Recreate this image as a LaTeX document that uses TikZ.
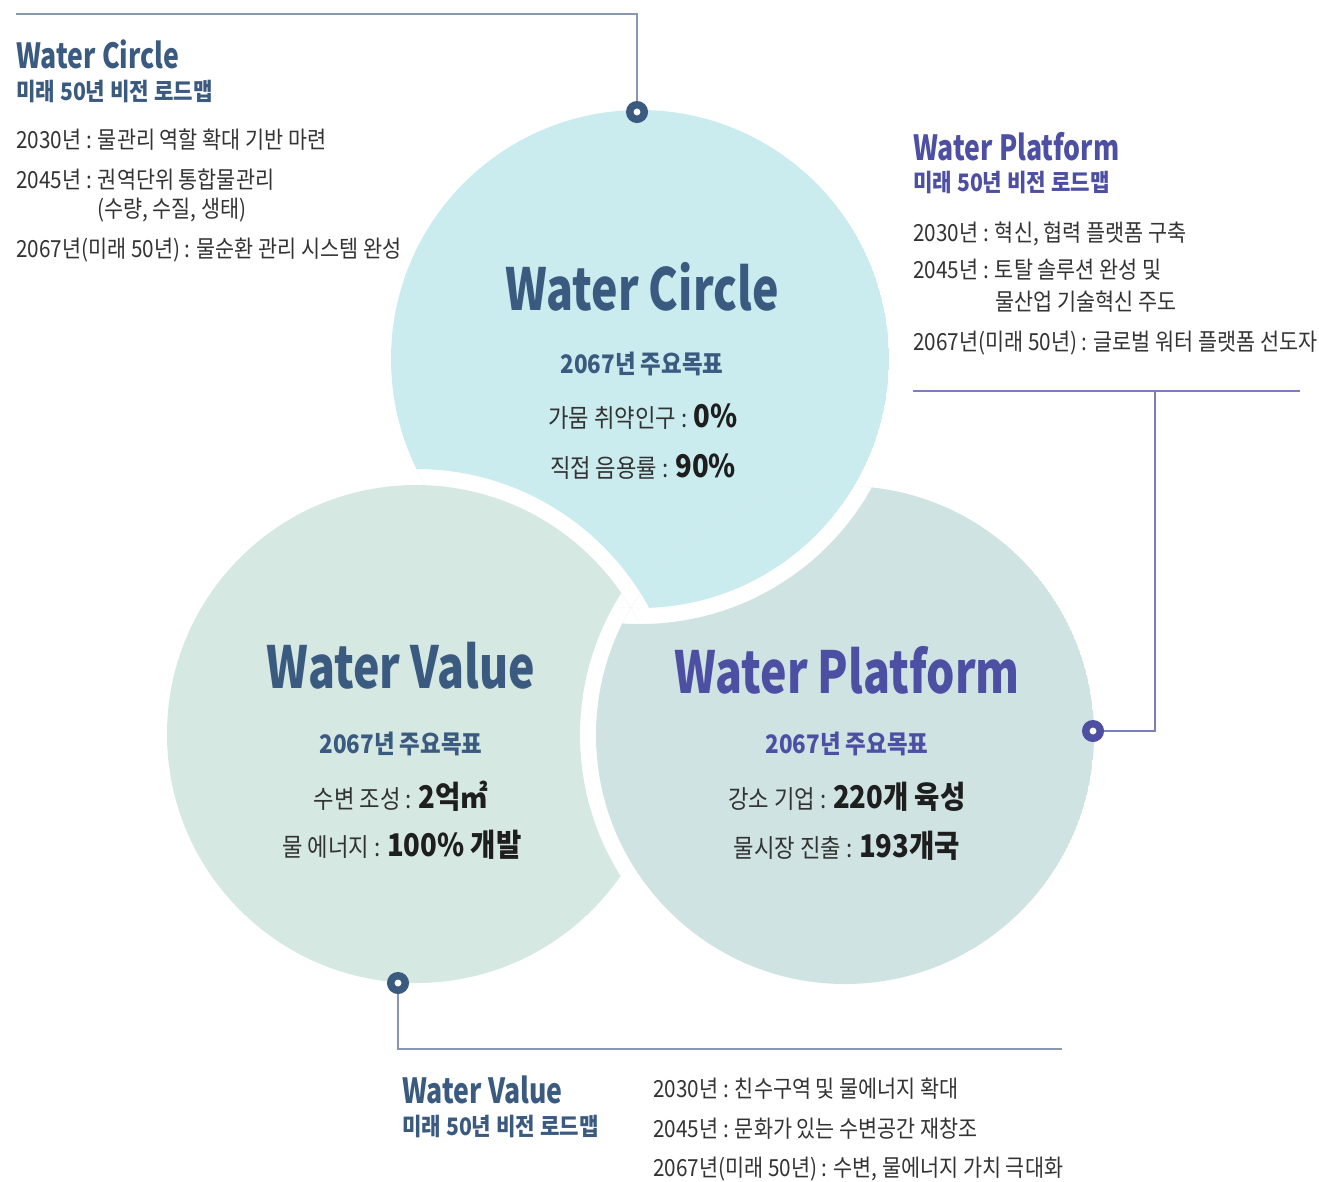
\documentclass[tikz,border=0pt]{standalone}
\usepackage{fontspec}
\setmainfont{Noto Sans CJK KR}[FakeStretch=0.88]
\newfontfamily\titlefont{Noto Sans CJK KR}[FakeStretch=0.77]
\usepackage{tikz}
\definecolor{navy}{HTML}{3B5A80}
\definecolor{wpViolet}{HTML}{4D4FA2}
\definecolor{bodyGrey}{HTML}{333333}
\definecolor{numBlack}{HTML}{1E1E1E}
\definecolor{wcFill}{HTML}{CBECEF}
\definecolor{wvFill}{HTML}{D5E8E2}
\definecolor{wpFill}{HTML}{CFE3E3}
\definecolor{lineBlue}{HTML}{8898B2}
\definecolor{lineViolet}{HTML}{7B7DC0}
\tikzstyle{bigtitle} = [anchor=base, inner sep=0pt, font=\titlefont\fontsize{33}{35}\selectfont\bfseries]
\tikzstyle{goal} = [anchor=base, inner sep=0pt, font=\fontsize{14.5}{16}\selectfont\bfseries]
\tikzstyle{item} = [anchor=base, inner sep=0pt, text=bodyGrey, font=\fontsize{14.4}{16}\selectfont]
\tikzstyle{sidetitle} = [anchor=base west, inner sep=0pt, font=\titlefont\fontsize{19.7}{21}\selectfont\bfseries]
\tikzstyle{sidesub} = [anchor=base west, inner sep=0pt, font=\fontsize{13.7}{15}\selectfont\bfseries]
\tikzstyle{sidetext} = [anchor=base west, inner sep=0pt, text=bodyGrey, font=\fontsize{13.4}{16}\selectfont]
\tikzstyle{dotpin} = [circle, fill=white, line width=4.25pt, inner sep=0pt, minimum size=0.29cm]
\tikzstyle{leader} = [line width=1.1pt]
\newcommand{\goalnum}[1]{{\fontsize{17.8}{19}\selectfont\bfseries\color{numBlack}#1}}

\begin{document}
\begin{tikzpicture}[x=0.02cm, y=-0.02cm]
    \useasboundingbox (0,0) rectangle (1319,1181);
    \coordinate (wcC) at (640,359);
    \coordinate (wvC) at (416,734);
    \coordinate (wpC) at (845,735);
    % each circle is cut by the white rim of the one lying over it
    \begin{scope}
        \clip (wcC) circle (249);
        \fill[wcFill, even odd rule] (wcC) circle (249) (wvC) circle (265);
    \end{scope}
    \begin{scope}
        \clip (wvC) circle (249);
        \fill[wvFill, even odd rule] (wvC) circle (249) (wpC) circle (265);
    \end{scope}
    \begin{scope}
        \clip (wpC) circle (249);
        \fill[wpFill, even odd rule] (wpC) circle (249) (wcC) circle (265);
    \end{scope}

    % leaders
    \coordinate (wcLineStart) at (16,14);
    \coordinate (wpLineL) at (913,391);
    \coordinate (wpLineR) at (1300,391);
    \coordinate (wpJoin) at (1155,391);
    \coordinate (wvLineEnd) at (1062,1049);
    \node[dotpin, draw=navy] (wcPin) at (637,112) {};
    \node[dotpin, draw=wpViolet] (wpPin) at (1093,731) {};
    \node[dotpin, draw=navy] (wvPin) at (398,983) {};
    \draw[leader, lineBlue] (wcLineStart) -| (wcPin);
    \draw[leader, lineViolet] (wpLineL) -- (wpLineR);
    \draw[leader, lineViolet] (wpPin) -| (wpJoin);
    \draw[leader, lineBlue] (wvPin) |- (wvLineEnd);

    % Water Circle
    \node[bigtitle, text=navy] (wcTitle) at (642,310) {Water Circle};
    \node[goal, text=navy] (wcGoal) at (642,373) {2067년 주요목표};
    \node[item] (wcItemA) at (643,427) {가뭄 취약인구 : \goalnum{0\%}};
    \node[item] (wcItemB) at (643,477) {직접 음용률 : \goalnum{90\%}};

    % Water Value
    \node[bigtitle, text=navy] (wvTitle) at (401,688) {Water Value};
    \node[goal, text=navy] (wvGoal) at (401,753) {2067년 주요목표};
    \node[item] (wvItemA) at (401,808) {수변 조성 : \goalnum{2억㎡}};
    \node[item] (wvItemB) at (402,856) {물 에너지 : \goalnum{100\% 개발}};

    % Water Platform
    \node[bigtitle, text=wpViolet] (wpTitle) at (847,693) {Water Platform};
    \node[goal, text=wpViolet] (wpGoal) at (847,753) {2067년 주요목표};
    \node[item] (wpItemA) at (847,808) {강소 기업 : \goalnum{220개 육성}};
    \node[item] (wpItemB) at (847,857) {물시장 진출 : \goalnum{193개국}};

    % roadmaps
    \node[sidetitle, text=navy] (wcHead) at (16,68) {Water Circle};
    \node[sidesub, text=navy] (wcSub) at (16,100) {미래 50년 비전 로드맵};
    \node[sidetext] (wcY30) at (16,148) {2030년 : 물관리 역할 확대 기반 마련};
    \node[sidetext] (wcY45) at (16,188) {2045년 : 권역단위 통합물관리};
    \node[sidetext] (wcY45b) at (97,217) {(수량, 수질, 생태)};
    \node[sidetext] (wcY67) at (16,257) {2067년(미래 50년) : 물순환 관리 시스템 완성};

    \node[sidetitle, text=wpViolet] (wpHead) at (913,160) {Water Platform};
    \node[sidesub, text=wpViolet] (wpSub) at (913,191) {미래 50년 비전 로드맵};
    \node[sidetext] (wpY30) at (913,241) {2030년 : 혁신, 협력 플랫폼 구축};
    \node[sidetext] (wpY45) at (913,278) {2045년 : 토탈 솔루션 완성 및};
    \node[sidetext] (wpY45b) at (995,310) {물산업 기술혁신 주도};
    \node[sidetext] (wpY67) at (913,350) {2067년(미래 50년) : 글로벌 워터 플랫폼 선도자};

    \node[sidetitle, text=navy] (wvHead) at (402,1103) {Water Value};
    \node[sidesub, text=navy] (wvSub) at (402,1135) {미래 50년 비전 로드맵};
    \node[sidetext] (wvY30) at (653,1097) {2030년 : 친수구역 및 물에너지 확대};
    \node[sidetext] (wvY45) at (653,1137) {2045년 : 문화가 있는 수변공간 재창조};
    \node[sidetext] (wvY67) at (653,1176) {2067년(미래 50년) : 수변, 물에너지 가치 극대화};
\end{tikzpicture}
\end{document}
